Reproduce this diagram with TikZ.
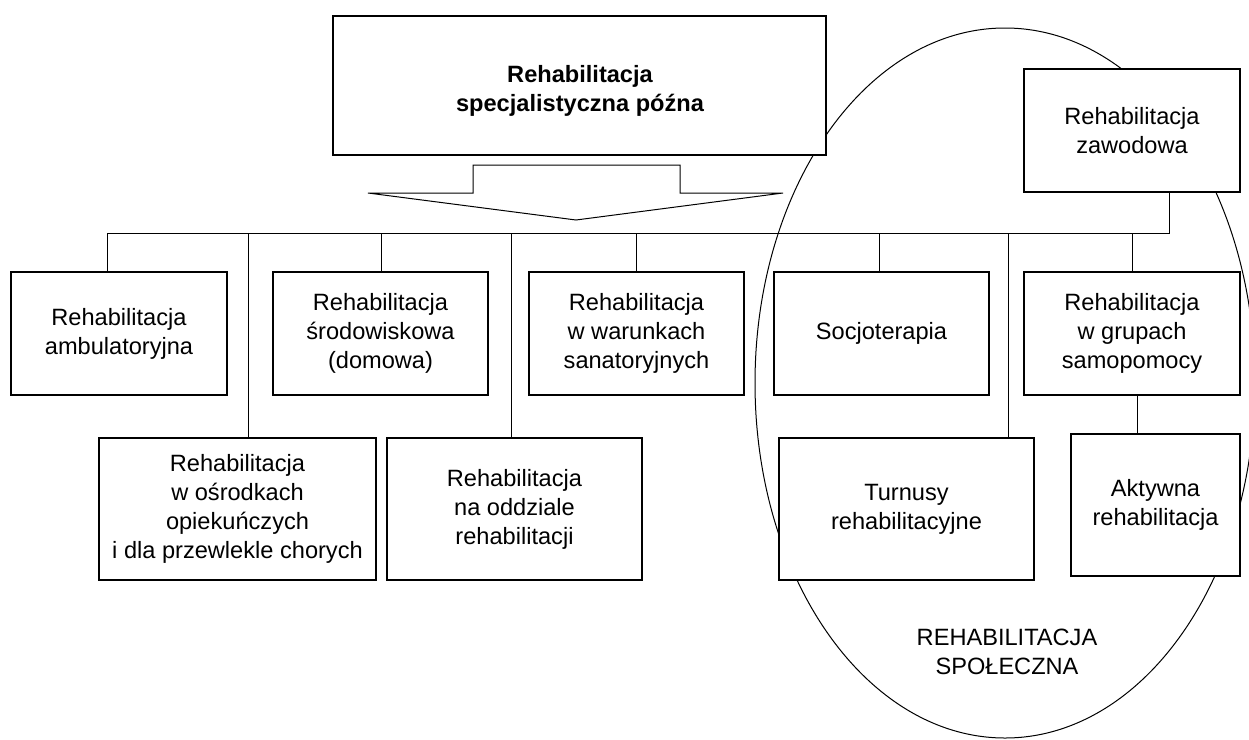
\documentclass[tikz,border=0pt]{standalone}
\usepackage{fontspec}
\setmainfont{Liberation Sans}
\usetikzlibrary{calc}
\begin{document}
\begin{tikzpicture}[x=1pt,y=-1pt,
  box/.style={draw,line width=1.1pt,fill=white,inner sep=0pt,align=center,
    font=\fontsize{23.6}{29}\selectfont},
  conn/.style={line width=1pt},
  lbl/.style={inner sep=0pt,align=center,font=\fontsize{23.6}{28.5}\selectfont}]
\useasboundingbox (0,0) rectangle (1249,739);
\fill[white] (0,0) rectangle (1249,739);
% ellipse of social rehabilitation
\draw[line width=1pt] (1005,383) ellipse [x radius=250, y radius=355];
\node[lbl] (spol) at (1007,652) {REHABILITACJA\\SPOŁECZNA};
% boxes
\node[box,minimum width=493,minimum height=139] (top) at (579.5,85.5) {};
\node[lbl,font=\fontsize{23.6}{29}\selectfont\bfseries] (toplbl) at (580,91) {Rehabilitacja\\specjalistyczna późna};
\node[box,minimum width=216,minimum height=123] (zaw) at (1132,130.5) {Rehabilitacja\\zawodowa};
\node[box,minimum width=216,minimum height=123] (b1) at (119,333.5) {Rehabilitacja\\ambulatoryjna};
\node[box,minimum width=215,minimum height=123] (b2) at (380.5,333.5) {Rehabilitacja\\środowiskowa\\(domowa)};
\node[box,minimum width=215,minimum height=123] (b3) at (636.5,333.5) {Rehabilitacja\\w warunkach\\sanatoryjnych};
\node[box,minimum width=215,minimum height=123] (soc) at (881.5,333.5) {Socjoterapia};
\node[box,minimum width=216,minimum height=123] (grp) at (1132,333.5) {Rehabilitacja\\w grupach\\samopomocy};
\node[box,minimum width=277,minimum height=142] (osr) at (237.5,509) {Rehabilitacja\\w ośrodkach\\opiekuńczych\\i dla przewlekle chorych};
\node[box,minimum width=255,minimum height=142] (odd) at (514.5,509) {Rehabilitacja\\na oddziale\\rehabilitacji};
\node[box,minimum width=255,minimum height=142] (tur) at (906.5,509) {Turnusy\\rehabilitacyjne};
\node[box,minimum width=169,minimum height=142] (akt) at (1155.5,505) {Aktywna\\rehabilitacja};
% block arrow
\draw[line width=1pt,fill=white] (473,193) -- (473,165) -- (680,165) -- (680,193) -- (783,193) -- (576,220) -- (368,193) -- cycle;
% bus and drops
\coordinate (d1) at (107,233);
\coordinate (d2) at (248,233);
\coordinate (d3) at (381,233);
\coordinate (d4) at (511,233);
\coordinate (d5) at (636,233);
\coordinate (d6) at (879,233);
\coordinate (d7) at (1008,233);
\coordinate (d8) at (1132,233);
\coordinate (dz) at (1169,233);
\coordinate (ga) at (1137,395);
\draw[conn] (d1) -- (dz) -- (dz |- zaw.south);
\draw[conn] (d1) -- (d1 |- b1.north);
\draw[conn] (d2) -- (d2 |- osr.north);
\draw[conn] (d3) -- (d3 |- b2.north);
\draw[conn] (d4) -- (d4 |- odd.north);
\draw[conn] (d5) -- (d5 |- b3.north);
\draw[conn] (d6) -- (d6 |- soc.north);
\draw[conn] (d7) -- (d7 |- tur.north);
\draw[conn] (d8) -- (d8 |- grp.north);
\draw[conn] (ga) -- (ga |- akt.north);
\end{tikzpicture}
\end{document}
